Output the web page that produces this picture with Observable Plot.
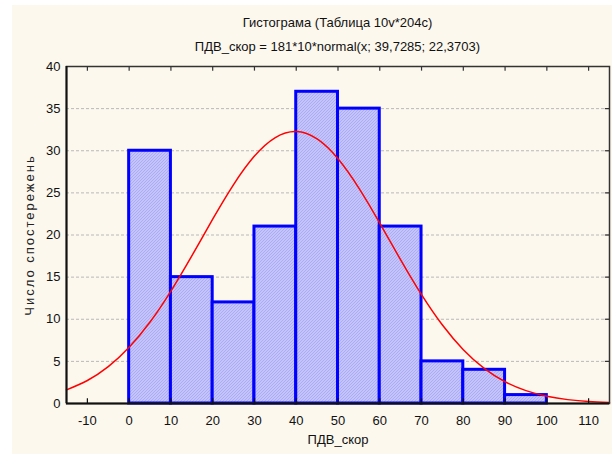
<!DOCTYPE html>
<html>
<head>
<meta charset="utf-8">
<script src="https://cdn.jsdelivr.net/npm/d3@7"></script>
<script src="https://cdn.jsdelivr.net/npm/@observablehq/plot@0.6"></script>
<style>
  html, body { margin: 0; padding: 0; background: #ffffff; }
  #wrap { position: relative; width: 612px; height: 454px; overflow: hidden; font-family: "Liberation Sans", Arial, sans-serif; }
  #cream { position: absolute; left: 12px; top: 5px; width: 600px; height: 449px; background: #fcf8ee; }
  .ttl { position: absolute; left: 66px; width: 543px; text-align: center; font-size: 13px; color: #111; }
  #chart { position: absolute; left: 0; top: 0; }
</style>
</head>
<body>
<div id="wrap">
  <div id="cream"></div>
  <div class="ttl" style="top:15px">Гистограма (Таблица 10v*204c)</div>
  <div class="ttl" style="top:39px">ПДВ_скор = 181*10*normal(x; 39,7285; 22,3703)</div>
  <div id="chart"></div>
</div>
<script>
// Histogram bins (ПДВ_скор) and observed counts
const binLow  = [0, 10, 20, 30, 40, 50, 60, 70, 80, 90];
const binHigh = [10, 20, 30, 40, 50, 60, 70, 80, 90, 100];
const counts  = [30, 15, 12, 21, 37, 35, 21, 5, 4, 1];

// Fitted normal curve, read at every 5 units
const curveX = [-15, -10, -5, 0, 5, 10, 15, 20, 25, 30, 35, 40, 45, 50, 55, 60, 65, 70, 75, 80, 85, 90, 95, 100, 105, 110, 115];
const curveY = [1.62, 2.73, 4.37, 6.67, 9.67, 13.35, 17.52, 21.88, 25.99, 29.37, 31.57, 32.28, 31.40, 29.05, 25.57, 21.41, 17.05, 12.92, 9.31, 6.39, 4.17, 2.58, 1.53, 0.86, 0.46, 0.23, 0.11];

// Axis ticks
const xTicks = [-10, 0, 10, 20, 30, 40, 50, 60, 70, 80, 90, 100, 110];
const yTicks = [0, 5, 10, 15, 20, 25, 30, 35, 40];
const gridTicks = [5, 10, 15, 20, 25, 30, 35];

const bars = binLow.map((b, i) => ({x1: b, x2: binHigh[i], y: counts[i]}));
const curve = curveX.map((x, i) => ({x, y: curveY[i]}));

const plot = Plot.plot({
  width: 612,
  height: 454,
  marginLeft: 66,
  marginRight: 3,
  marginTop: 66,
  marginBottom: 51,
  style: {background: "transparent", fontFamily: "Liberation Sans, Arial, sans-serif", fontSize: "13px", color: "#111", overflow: "visible"},
  x: {domain: [-15, 115], ticks: xTicks, tickSize: 0, tickPadding: 12, tickFormat: d => String(d), label: null},
  y: {domain: [0, 40], ticks: yTicks, tickSize: 0, tickPadding: 6, tickFormat: d => String(d), label: null},
  marks: [
    Plot.ruleY(gridTicks, {stroke: "#b8b8b8", strokeWidth: 1, strokeDasharray: "3,2"}),
    Plot.rectY(bars, {x1: "x1", x2: "x2", y: "y", fill: "url(#hatch)", stroke: "#0000ff", strokeWidth: 3}),
    Plot.line(curve, {x: "x", y: "y", stroke: "#ff0000", strokeWidth: 1.5, curve: "natural"}),
    Plot.frame({stroke: "#333", strokeWidth: 1.5}),
    Plot.ruleX([-15], {stroke: "#111", strokeWidth: 2}),
    Plot.ruleY([0], {stroke: "#111", strokeWidth: 2}),
    Plot.ruleX(xTicks, {y1: 0, y2: 0.55, stroke: "#111", strokeWidth: 1.2}),
    Plot.ruleX(xTicks, {y1: 39.45, y2: 40, stroke: "#333", strokeWidth: 1.2}),
    Plot.ruleY(gridTicks, {x1: 114, x2: 115, stroke: "#333", strokeWidth: 1.2}),
    Plot.text(["ПДВ_скор"], {frameAnchor: "bottom", dy: 40, fontSize: 13, fill: "#111"}),
    Plot.text(["Число спостережень"], {frameAnchor: "left", textAnchor: "middle", dx: -37, rotate: -90, fontSize: 13, fill: "#222"})
  ]
});

plot.insertAdjacentHTML("afterbegin",
  '<defs><pattern id="hatch" patternUnits="userSpaceOnUse" width="3" height="3">' +
  '<rect width="3" height="3" fill="#c4c4fb"></rect>' +
  '<path d="M0,3 L3,0 M-1,1 L1,-1 M2,4 L4,2" stroke="#a6a6f0" stroke-width="0.8"></path>' +
  '</pattern></defs>');

d3.select(plot).selectAll("text")
  .filter(function() { return this.textContent === "Число спостережень"; })
  .attr("letter-spacing", "2px");

document.getElementById("chart").appendChild(plot);
</script>
</body>
</html>
